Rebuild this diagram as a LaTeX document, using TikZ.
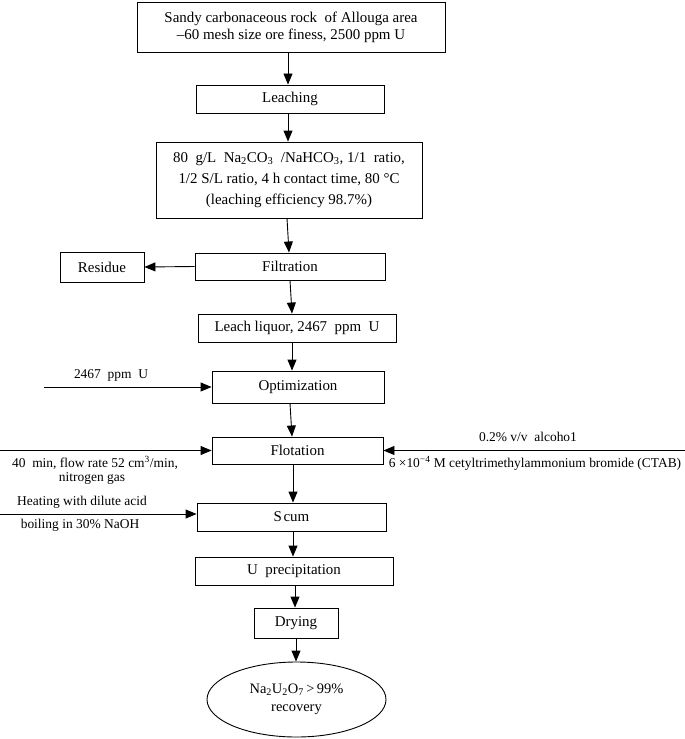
\documentclass[tikz,border=0pt]{standalone}
\usepackage{fontspec}
\setmainfont{Liberation Serif}
\usetikzlibrary{arrows.meta,shapes.geometric}
\begin{document}
\begin{tikzpicture}[x=1bp,y=-1bp,
  box/.style={draw,line width=0.9bp,inner sep=0pt,align=center,font=\fontsize{15}{18}\selectfont},
  lab/.style={inner sep=0pt,font=\fontsize{13.5}{16}\selectfont},
  arr/.style={line width=0.9bp,-{Triangle[length=11bp,width=9bp]}}]
\useasboundingbox (0,0) rectangle (685,739);
% main chain
\node[box,minimum width=308bp,minimum height=50bp,font=\fontsize{15}{17}\selectfont] (top) at (291,27) {Sandy carbonaceous rock\ \ of Allouga area\\–60 mesh size ore finess, 2500 ppm U};
\node[box,minimum width=188bp,minimum height=28bp] (leach) at (290,99) {Leaching};
\node[box,minimum width=266bp,minimum height=76bp,font=\fontsize{15}{21}\selectfont] (params) at (289,180) {80\ \ g/L\ \ Na\textsubscript{2}CO\textsubscript{3}\ \ /NaHCO\textsubscript{3}, 1/1\ \ ratio,\\1/2 S/L ratio, 4 h contact time, 80 °C\\(leaching efficiency 98.7\%)};
\node[box,minimum width=190bp,minimum height=27bp] (filt) at (290,266.5) {Filtration};
\node[box,minimum width=84bp,minimum height=30bp] (residue) at (102,267) {Residue};
\node[box,minimum width=198bp,minimum height=28bp] (liquor) at (297,328) {Leach liquor, 2467\ \ ppm\ \ U};
\node[box,minimum width=172bp,minimum height=32bp] (optim) at (298,387) {Optimization};
\node[box,minimum width=171bp,minimum height=27bp] (flot) at (297.5,450.5) {Flotation};
\node[box,minimum width=189bp,minimum height=28bp] (scum) at (291.5,517) {S\kern1.5bp cum};
\node[box,minimum width=198bp,minimum height=28bp] (uprec) at (294,571) {U\ \ precipitation};
\node[box,minimum width=84bp,minimum height=30bp] (drying) at (296,623) {Drying};
\node[box,ellipse,minimum width=179bp,minimum height=75bp,font=\fontsize{14.5}{18}\selectfont] (final) at (296.5,699.5) {Na\textsubscript{2}U\textsubscript{2}O\textsubscript{7}\,>\,99\%\\recovery};
% vertical connectors
\draw[arr] (top.south -| 288,0) -- (leach.north -| 288,0);
\draw[arr] (leach.south -| 288,0) -- (params.north -| 288,0);
\draw[arr] (params.south -| 287,0) -- (filt.north -| 289,0);
\draw[arr] (filt.west) -- (residue.east);
\draw[arr] (filt.south -| 290,0) -- (liquor.north -| 292,0);
\draw[arr] (liquor.south -| 292,0) -- (optim.north -| 292,0);
\draw[arr] (optim.south -| 290,0) -- (flot.north -| 292,0);
\draw[arr] (flot.south -| 293,0) -- (scum.north -| 293,0);
\draw[arr] (scum.south -| 293,0) -- (uprec.north -| 293,0);
\draw[arr] (uprec.south -| 295,0) -- (drying.north -| 295,0);
\draw[arr] (drying.south -| 296,0) -- (final.north -| 296,0);
% side inputs
\coordinate (inA) at (44,387);
\coordinate (inB) at (0,450.5);
\coordinate (inC) at (685,450.5);
\coordinate (inD) at (0,514);
\draw[arr] (inA) -- (optim.west);
\draw[arr] (inB) -- (flot.west);
\draw[arr] (inC) -- (flot.east);
\draw[arr] (inD) -- (scum.west |- inD);
% labels
\node[lab] (l1) at (111,375) {2467\ \ ppm\ \ U};
\node[lab] (l2) at (95,463) {40\ \ min, flow rate 52 cm\textsuperscript{3}/min,};
\node[lab] (l3) at (92,478) {nitrogen gas};
\node[lab] (l4) at (528,437) {0.2\% v/v\ \ alcoho1};
\node[lab] (l5) at (535,463) {6 ×10\textsuperscript{−4} M cetyltrimethylammonium bromide (CTAB)};
\node[lab] (l6) at (82,502) {Heating with dilute acid};
\node[lab] (l7) at (80,525) {boiling in 30\% NaOH};
\end{tikzpicture}
\end{document}
